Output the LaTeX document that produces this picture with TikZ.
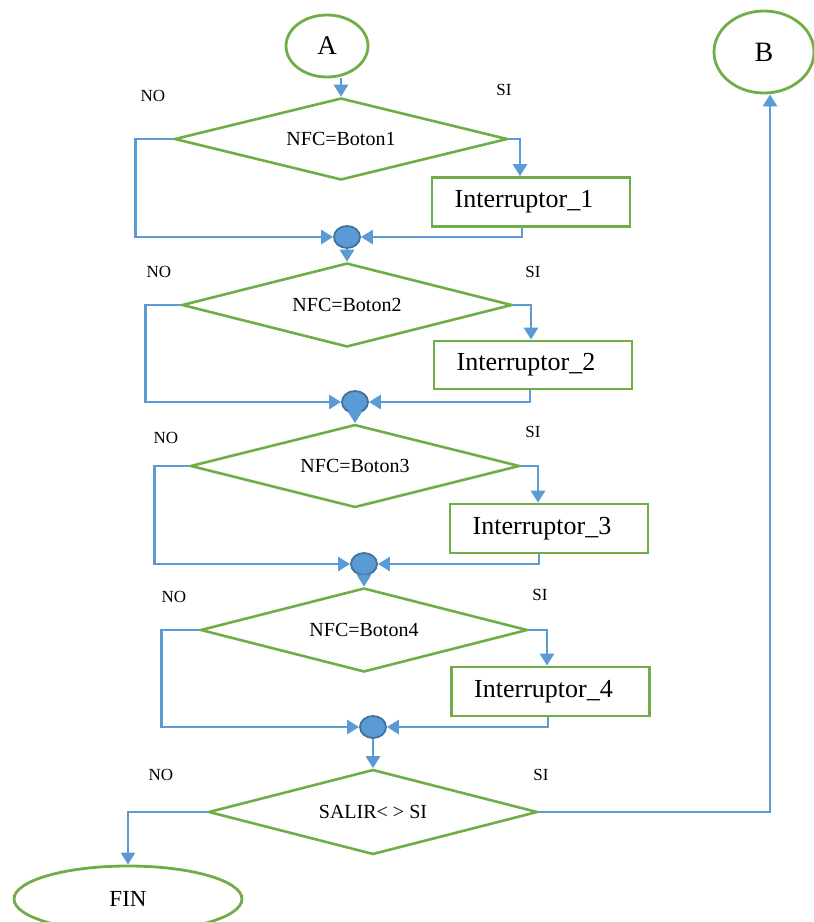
\documentclass[tikz,border=0pt]{standalone}
\usepackage{fontspec}
\setmainfont{Liberation Serif}
\usetikzlibrary{shapes.geometric,arrows.meta}
\definecolor{flowgreen}{HTML}{70AD47}
\definecolor{flowblue}{HTML}{5B9BD5}
\definecolor{flowdark}{HTML}{41719C}
\begin{document}
\begin{tikzpicture}[x=1pt,y=-1pt,
  every node/.style={inner sep=0pt},
  terminal/.style={ellipse,draw=flowgreen,line width=2.8pt},
  decision/.style={diamond,aspect=4,draw=flowgreen,line width=2.6pt,font=\fontsize{20}{22}\selectfont},
  action/.style={rectangle,draw=flowgreen,line width=2.8pt,minimum width=198pt,minimum height=49pt,font=\fontsize{26}{28}\selectfont},
  joint/.style={ellipse,draw=flowdark,fill=flowblue,line width=1.8pt,minimum width=26pt,minimum height=22pt},
  flow/.style={draw=flowblue,line width=2.8pt,-{Triangle[length=12pt,width=14pt]}},
  tag/.style={font=\fontsize{17}{19}\selectfont}
]
\useasboundingbox (0,0) rectangle (814,922);
\clip (0,0) rectangle (814,922);

% terminals
\node[terminal,minimum width=82pt,minimum height=62pt,font=\fontsize{27}{29}\selectfont] (A) at (327,46) {A};
\node[terminal,minimum width=100pt,minimum height=82pt,font=\fontsize{28}{30}\selectfont] (B) at (764,52) {B};
\node[terminal,minimum width=228pt,minimum height=66pt,font=\fontsize{23}{25}\selectfont] (FIN) at (128,899) {FIN};

% decisions
\node[decision,minimum width=333pt,minimum height=82pt] (d1) at (341,139) {NFC=Boton1};
\node[decision,minimum width=330pt,minimum height=84pt] (d2) at (347,305) {NFC=Boton2};
\node[decision,minimum width=329pt,minimum height=83pt] (d3) at (355,466) {NFC=Boton3};
\node[decision,minimum width=327pt,minimum height=84pt] (d4) at (364,630) {NFC=Boton4};
\node[decision,minimum width=329pt,minimum height=85pt] (d5) at (373,812) {SALIR< > SI};

% actions
\node[action] (b1) at (531,202) {Interruptor\_1\kern14pt};
\node[action,minimum height=48pt] (b2) at (533,365) {Interruptor\_2\kern14pt};
\node[action] (b3) at (549,528.5) {Interruptor\_3\kern14pt};
\node[action] (b4) at (550.5,691.5) {Interruptor\_4\kern14pt};

% junctions
\node[joint] (j1) at (347,237) {};
\node[joint] (j2) at (355,402) {};
\node[joint] (j3) at (364,564) {};
\node[joint] (j4) at (373,727) {};

% branch labels
\node[tag] (no1) at (153,96) {NO};   \node[tag] (si1) at (504,90) {SI};
\node[tag] (no2) at (159,272) {NO};  \node[tag] (si2) at (533,272) {SI};
\node[tag] (no3) at (166,438) {NO};  \node[tag] (si3) at (533,432) {SI};
\node[tag] (no4) at (174,597) {NO};  \node[tag] (si4) at (540,595) {SI};
\node[tag] (no5) at (161,775) {NO};  \node[tag] (si5) at (541,775) {SI};

% connectors
\draw[flow] (d1.north |- A.south) -- (d1.north);

\draw[flow] (d1.east) -| ([xshift=-11pt]b1.north);
\draw[flow] (d1.west) -- ++(-38,0) |- (j1.west);
\draw[flow] ([xshift=-9pt]b1.south) |- (j1.east);
\draw[flow] (j1.south) -- (d2.north);

\draw[flow] (d2.east) -| ([xshift=-2pt]b2.north);
\draw[flow] (d2.west) -- ++(-35,0) |- (j2.west);
\draw[flow] ([xshift=-3pt]b2.south) |- (j2.east);
\draw[flow] (j2.south) -- (d3.north);

\draw[flow] (d3.east) -| ([xshift=-11pt]b3.north);
\draw[flow] (d3.west) -- ++(-35,0) |- (j3.west);
\draw[flow] ([xshift=-10pt]b3.south) |- (j3.east);
\draw[flow] (j3.south) -- (d4.north);

\draw[flow] (d4.east) -| ([xshift=-3.5pt]b4.north);
\draw[flow] (d4.west) -- ++(-38,0) |- (j4.west);
\draw[flow] ([xshift=-2.5pt]b4.south) |- (j4.east);
\draw[flow] (j4.south) -- (d5.north);

\draw[flow] (d5.east) -| ([xshift=6pt]B.south);
\draw[flow] (d5.west) -| (FIN.north);
\end{tikzpicture}
\end{document}
